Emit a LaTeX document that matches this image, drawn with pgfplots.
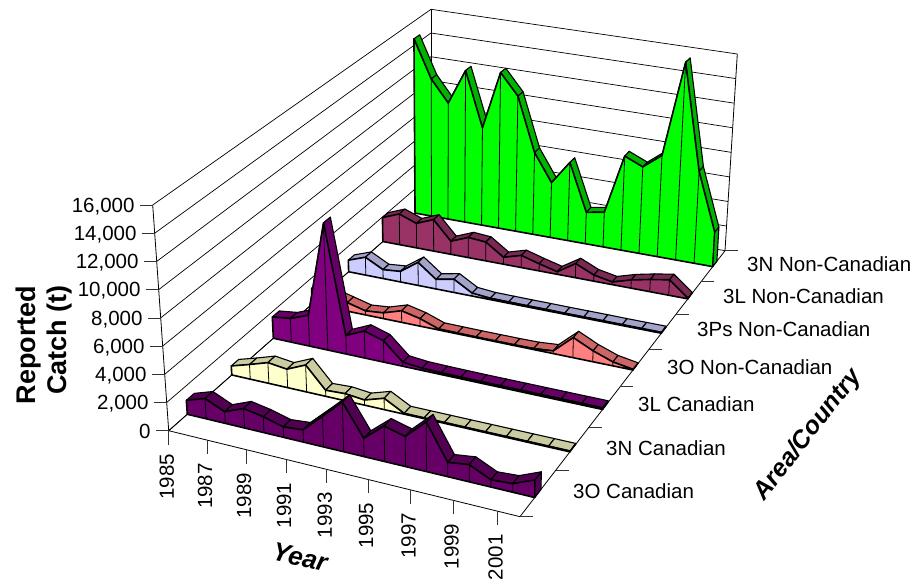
\documentclass[border=0pt]{standalone}
\usepackage{pgfplots}
\usepackage{pgfplotstable}
\usepackage{fontspec}
\setmainfont{Liberation Sans}
\pgfplotsset{compat=1.18}

% Reported catch by year (t), one column per area and country.
\pgfplotstableread{
yr    OC    NC    LC    ON    PN    LN    NN
1985  1000  660   1600  1200  914   1940  14500
1986  1450  1070  1775  1000  1410  2480  11380
1987  830   1510  2300  660   700   1970  9600
1988  1380  1340  9450  310   830   2530  12510
1989  1120  1950  1375  440   1800  1050  8010
1990  740   440   2000  880   750   1610  12790
1991  860   510   1580  570   1030  1500  11080
1992  2130  370   300   80    230   550   6690
1993  3450  810   170   70    110   960   4470
1994  1270  60    140   60    100   560   6360
1995  2450  60    130   60    90    200   2550
1996  2070  60    120   60    90    1110  2810
1997  3400  60    120   80    80    480   7610
1998  980   60    120   200   80    210   6980
1999  1165  60    120   1480  80    640   8150
2000  490   60    120   800   70    950   15890
2001  580   60    120   290   70    1200  7370
2002  1190  60    120   50    70    50    2750
}\catch

% Central projection of (year position u, depth w, height z) onto the page.
\pgfmathdeclarefunction{PX}{3}{\pgfmathparse{(309.6*#1+370.4*#2+168.7)/(1-0.0802*#1+0.25082*#2)+#3*(-16+19.7*#1+16*#2-7.4*#1*#2)}}
\pgfmathdeclarefunction{PY}{3}{\pgfmathparse{(44.56*#1-181.79*#2+430.7)/(1-0.0802*#1+0.25082*#2)+#3*(-225.7-14.3*#1+36*#2+7.3*#1*#2)}}
\newcommand\Pt[4]{% #1 = macro stem, u, w, z
  \pgfmathsetmacro\tmpx{PX(#2,#3,#4)}\pgfmathsetmacro\tmpy{PY(#2,#3,#4)}%
  \expandafter\edef\csname #1\endcsname{(\tmpx,\tmpy)}%
}
\def\ribbondepth{0.025}

% One series: ribbon on top, front face with a line per year, end cap.
\newcommand\DrawSeries[4]{%  column, depth, face colour, ribbon colour
  \pgfmathsetmacro\wa{#2}\pgfmathsetmacro\wb{#2+\ribbondepth}%
  \gdef\frontpath{}%
  \pgfplotsforeachungrouped \i in {0,...,16}{%
    \pgfmathtruncatemacro\j{\i+1}%
    \pgfplotstablegetelem{\i}{#1}\of\catch\pgfmathsetmacro\za{\pgfplotsretval/16000}%
    \pgfplotstablegetelem{\j}{#1}\of\catch\pgfmathsetmacro\zb{\pgfplotsretval/16000}%
    \pgfmathsetmacro\ua{\i/17}\pgfmathsetmacro\ub{\j/17}%
    \Pt{pa}{\ua}{\wa}{\za}\Pt{pb}{\ub}{\wa}{\zb}\Pt{pc}{\ub}{\wb}{\zb}\Pt{pd}{\ua}{\wb}{\za}%
    \edef\tmp{\noexpand\addplot[fill=#4,draw=black,line width=1.1pt,line join=round] coordinates {\pa\pb\pc\pd} -- cycle;}\tmp
  }%
  \pgfplotsforeachungrouped \i in {0,...,17}{%
    \pgfplotstablegetelem{\i}{#1}\of\catch\pgfmathsetmacro\za{\pgfplotsretval/16000}%
    \pgfmathsetmacro\ua{\i/17}%
    \Pt{pa}{\ua}{\wa}{\za}%
    \xdef\frontpath{\frontpath\pa}%
  }%
  \Pt{pa}{1}{\wa}{0}\Pt{pb}{0}{\wa}{0}%
  \edef\tmp{\noexpand\addplot[fill=#3,draw=black,line width=1.6pt,line join=round] coordinates {\frontpath\pa\pb} -- cycle;}\tmp
  \pgfplotsforeachungrouped \i in {1,...,16}{%
    \pgfplotstablegetelem{\i}{#1}\of\catch\pgfmathsetmacro\za{\pgfplotsretval/16000}%
    \pgfmathsetmacro\ua{\i/17}%
    \Pt{pa}{\ua}{\wa}{\za}\Pt{pb}{\ua}{\wa}{0}%
    \edef\tmp{\noexpand\addplot[draw=black,line width=0.8pt] coordinates {\pa\pb};}\tmp
  }%
  \pgfplotstablegetelem{17}{#1}\of\catch\pgfmathsetmacro\za{\pgfplotsretval/16000}%
  \Pt{pa}{1}{\wa}{0}\Pt{pb}{1}{\wb}{0}\Pt{pc}{1}{\wb}{\za}\Pt{pd}{1}{\wa}{\za}%
  \edef\tmp{\noexpand\addplot[fill=#4,draw=black,line width=1.1pt,line join=round] coordinates {\pa\pb\pc\pd} -- cycle;}\tmp
}

\definecolor{cGreen}{HTML}{00FF00}\definecolor{rGreen}{HTML}{00B300}
\definecolor{cMaroon}{HTML}{993366}\definecolor{rMaroon}{HTML}{7A2952}
\definecolor{cLav}{HTML}{CCCCFF}\definecolor{rLav}{HTML}{A3A3CC}
\definecolor{cSalmon}{HTML}{FF8080}\definecolor{rSalmon}{HTML}{CC6666}
\definecolor{cPurple}{HTML}{800080}\definecolor{rPurple}{HTML}{660066}
\definecolor{cYellow}{HTML}{FFFFCC}\definecolor{rYellow}{HTML}{CCCCA3}
\definecolor{cDeep}{HTML}{660066}\definecolor{rDeep}{HTML}{520052}

\begin{document}
\begin{tikzpicture}
\path[use as bounding box] (0,0) rectangle (914pt,582pt);
\begin{axis}[
  at={(0,0)}, anchor=south west,
  scale only axis, width=914pt, height=582pt,
  xmin=0, xmax=914, ymin=0, ymax=582, y dir=reverse,
  hide axis, clip=false,
]
% walls: height lines on the left and back planes
\pgfplotsforeachungrouped \k in {0,...,8}{%
  \pgfmathsetmacro\zk{\k/8}%
  \Pt{pa}{0}{0}{\zk}\Pt{pb}{0}{1}{\zk}\Pt{pc}{1}{1}{\zk}%
  \edef\tmp{\noexpand\addplot[draw=black,line width=0.7pt] coordinates {\pa\pb\pc};}\tmp
}
\Pt{pa}{0}{0}{0}\Pt{pb}{0}{0}{1}\edef\tmp{\noexpand\addplot[draw=black,line width=0.8pt] coordinates {\pa\pb};}\tmp
\Pt{pa}{0}{1}{0}\Pt{pb}{0}{1}{1}\edef\tmp{\noexpand\addplot[draw=black,line width=0.8pt] coordinates {\pa\pb};}\tmp
\Pt{pa}{1}{1}{0}\Pt{pb}{1}{1}{1}\edef\tmp{\noexpand\addplot[draw=black,line width=0.8pt] coordinates {\pa\pb};}\tmp
% floor outline
\Pt{pa}{0}{1}{0}\Pt{pb}{0}{0}{0}\Pt{pc}{1}{0}{0}\Pt{pd}{1}{1}{0}
\edef\tmp{\noexpand\addplot[draw=black,line width=0.8pt] coordinates {\pa\pb\pc\pd};}\tmp
% height ticks
\foreach \k/\lab in {0/0,1/{2,000},2/{4,000},3/{6,000},4/{8,000},5/{10,000},6/{12,000},7/{14,000},8/{16,000}}{
  \pgfmathsetmacro\zk{\k/8}
  \pgfmathsetmacro\xa{PX(0,0,\zk)}\pgfmathsetmacro\ya{PY(0,0,\zk)}
  \pgfmathsetmacro\xb{\xa-13}\pgfmathsetmacro\xc{\xa-18}
  \edef\tmp{\noexpand\draw[black!80,line width=0.7pt] (axis cs:\xa,\ya) -- (axis cs:\xb,\ya);
    \noexpand\node[anchor=east,inner sep=0pt,text height=14.7pt,text depth=0pt,font=\noexpand\fontsize{20.5}{24}\noexpand\selectfont] at (axis cs:\xc,\ya) {\lab};}
  \tmp
}
% year ticks
\foreach \n/\lab in {0/1985,2/1987,4/1989,6/1991,8/1993,10/1995,12/1997,14/1999,16/2001}{
  \pgfmathsetmacro\uk{\n/17}
  \pgfmathsetmacro\xa{PX(\uk,0,0)}\pgfmathsetmacro\ya{PY(\uk,0,0)}
  \pgfmathsetmacro\yb{\ya+14}\pgfmathsetmacro\yc{\ya+23}\pgfmathsetmacro\xc{\xa-2}
  \edef\tmp{\noexpand\draw[black!80,line width=0.7pt] (axis cs:\xa,\ya) -- (axis cs:\xa,\yb);
    \noexpand\node[anchor=east,rotate=90,inner sep=0pt,font=\noexpand\fontsize{20.5}{24}\noexpand\selectfont] at (axis cs:\xc,\yc) {\lab};}
  \tmp
}
% depth ticks
\foreach \n in {0,...,7}{
  \pgfmathsetmacro\wk{\n/7}
  \pgfmathsetmacro\xa{PX(1,\wk,0)}\pgfmathsetmacro\ya{PY(1,\wk,0)}
  \pgfmathsetmacro\xb{\xa+13}
  \edef\tmp{\noexpand\draw[black!80,line width=0.7pt] (axis cs:\xa,\ya) -- (axis cs:\xb,\ya);}
  \tmp
}
% series from the back plane forwards
\DrawSeries{NN}{0.9251}{cGreen}{rGreen}
\DrawSeries{LN}{0.7805}{cMaroon}{rMaroon}
\DrawSeries{PN}{0.6359}{cLav}{rLav}
\DrawSeries{ON}{0.4913}{cSalmon}{rSalmon}
\DrawSeries{LC}{0.3467}{cPurple}{rPurple}
\DrawSeries{NC}{0.2021}{cYellow}{rYellow}
\DrawSeries{OC}{0.0575}{cDeep}{rDeep}
% area labels
\tikzset{lab/.style={anchor=west,inner sep=0pt,font=\fontsize{20.5}{24}\selectfont}}
\node[lab] at (axis cs:573,491) {3O Canadian};
\node[lab] at (axis cs:606,448) {3N Canadian};
\node[lab] at (axis cs:638,404) {3L Canadian};
\node[lab] at (axis cs:667,367) {3O Non-Canadian};
\node[lab] at (axis cs:697,329) {3Ps Non-Canadian};
\node[lab] at (axis cs:723,296) {3L Non-Canadian};
\node[lab] at (axis cs:747,264) {3N Non-Canadian};
% axis titles
\node[rotate=90,anchor=base,inner sep=0pt,font=\fontsize{27}{29}\bfseries] at (axis cs:35,345) {Reported};
\node[rotate=90,anchor=base,inner sep=0pt,font=\fontsize{27}{29}\bfseries] at (axis cs:66.7,340) {Catch (t)};
\node[rotate=-13,inner sep=0pt,font=\fontsize{26}{28}\bfseries\itshape] at (axis cs:300,557) {Year};
\node[rotate=52,inner sep=0pt,font=\fontsize{25}{27}\bfseries\itshape] at (axis cs:808,435) {Area/Country};
\end{axis}
\end{tikzpicture}
\end{document}
